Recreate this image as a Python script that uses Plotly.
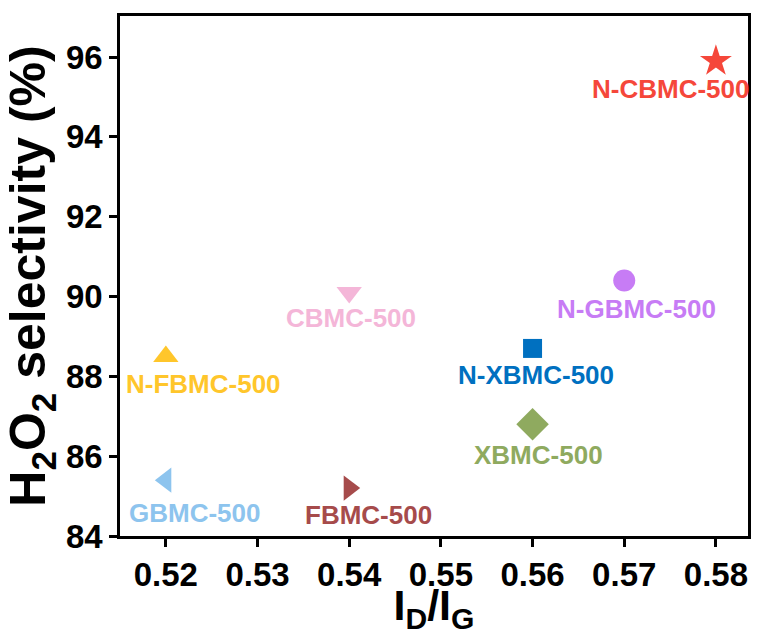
import plotly.graph_objects as go

# Samples: I_D/I_G ratio vs. H2O2 selectivity
names = ["N-CBMC-500", "N-GBMC-500", "N-XBMC-500", "XBMC-500",
         "CBMC-500", "N-FBMC-500", "GBMC-500", "FBMC-500"]
id_ig = [0.58, 0.57, 0.56, 0.56, 0.54, 0.52, 0.52, 0.54]
selectivity = [95.9, 90.4, 88.7, 86.8, 90.1, 88.5, 85.4, 85.2]

symbols = ["star", "circle", "square", "diamond",
           "triangle-down", "triangle-up", "triangle-left", "triangle-right"]
colors = ["#F5473A", "#C77CF5", "#0070C0", "#8FAA5F",
          "#F4B6D8", "#FFC62B", "#8DC4EE", "#A64B4B"]
sizes = [24, 22, 19, 25, 22, 22, 22, 22]

# label anchor offsets (data units) relative to each point
label_dx = [-0.0049, 0.0013, 0.0004, 0.0006, 0.0002, 0.0041, 0.0031, 0.0021]
label_dy = [-0.70, -0.72, -0.66, -0.78, -0.63, -0.70, -0.83, -0.68]

FONT = "Liberation Sans, Arial, sans-serif"

fig = go.Figure()
for n, x, y, s, c, sz in zip(names, id_ig, selectivity, symbols, colors, sizes):
    fig.add_trace(go.Scatter(
        x=[x], y=[y], mode="markers", name=n,
        marker=dict(symbol=s, color=c, size=sz, line=dict(width=0)),
        showlegend=False,
    ))

for n, x, y, c, dx, dy in zip(names, id_ig, selectivity, colors, label_dx, label_dy):
    fig.add_annotation(
        x=x + dx, y=y + dy, text=f"<b>{n}</b>", showarrow=False,
        font=dict(family=FONT, size=26, color=c),
        xanchor="center", yanchor="middle",
    )

axis_common = dict(
    showline=True, linecolor="black", linewidth=2.5, mirror=True,
    ticks="outside", ticklen=8, tickwidth=2.5, tickcolor="black",
    showgrid=False, zeroline=False,
    tickfont=dict(family=FONT, size=33, color="black", weight="bold"),
)

fig.update_xaxes(
    range=[0.515, 0.5835], tickvals=[0.52, 0.53, 0.54, 0.55, 0.56, 0.57, 0.58],
    ticktext=["0.52", "0.53", "0.54", "0.55", "0.56", "0.57", "0.58"],
    title=dict(text="<b>I<sub>D</sub>/I<sub>G</sub></b>", standoff=7,
               font=dict(family=FONT, size=43, color="black")),
    automargin=False,
    **axis_common,
)
fig.update_yaxes(
    range=[84, 97.03], tickvals=[84, 86, 88, 90, 92, 94, 96],
    title=dict(text="<b>H<sub>2</sub>O<sub>2</sub> selectivity (%)</b>", standoff=8,
               font=dict(family=FONT, size=50, color="black")),
    **axis_common,
)

fig.update_layout(
    width=764, height=635,
    margin=dict(l=120, r=16, t=16, b=99),
    plot_bgcolor="white", paper_bgcolor="white",
    font=dict(family=FONT, color="black"),
)

fig.write_html("out.html")
